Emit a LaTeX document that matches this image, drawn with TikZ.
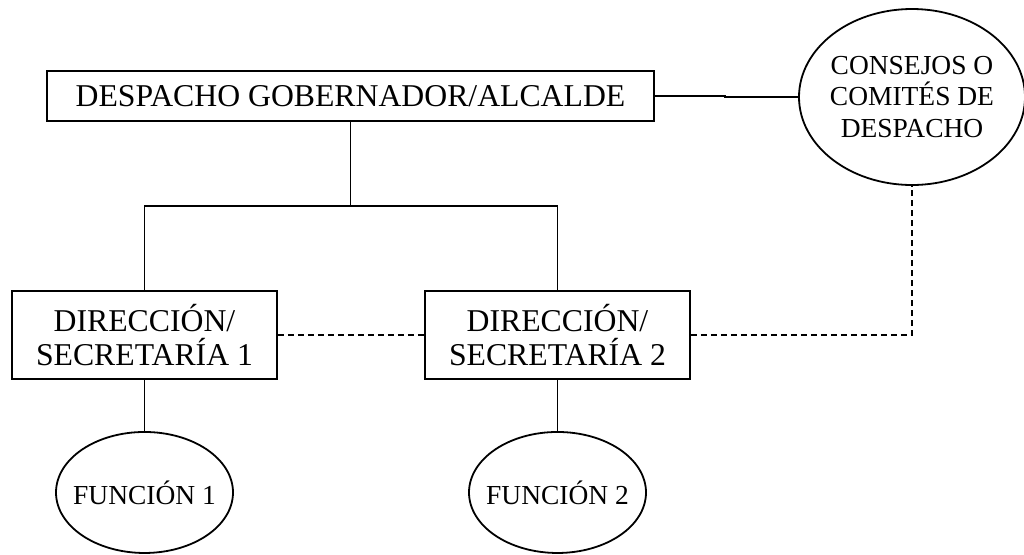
\documentclass[tikz,border=0pt]{standalone}
\usepackage{fontspec}
\setmainfont{Liberation Serif}
\usepackage{tikz}
\usetikzlibrary{shapes.geometric}

\begin{document}
\begin{tikzpicture}[x=0.75pt, y=-0.75pt, line width=1.35pt,
    bigtext/.style={font=\fontsize{23.8}{25.5}\selectfont},
    smalltext/.style={font=\fontsize{20.6}{23.3}\selectfont},
    office/.style={rectangle, draw, bigtext, align=center, inner sep=0pt, minimum width=198.75pt, minimum height=66pt},
    council/.style={ellipse, draw, smalltext, align=center, inner xsep=-4pt, minimum width=169.5pt, minimum height=132pt},
    task/.style={ellipse, draw, smalltext, inner xsep=-8pt, minimum width=132.75pt, minimum height=90.75pt},
    link/.style={dash pattern=on 4.5pt off 3pt}]
    \useasboundingbox (0,0) rectangle (1024,554);
    \node[rectangle, draw, bigtext, inner sep=0pt, minimum width=455.25pt, minimum height=37.5pt] (despacho) at (350.5,96) {DESPACHO GOBERNADOR/ALCALDE};
    \node[council] (consejos) at (912,97) {CONSEJOS O\\COMITÉS DE\\DESPACHO};
    \node[office] (dir1) at (144.5,335) {DIRECCIÓN/\\SECRETARÍA 1};
    \node[office, right of=dir1, node distance=309.75pt] (dir2) {DIRECCIÓN/\\SECRETARÍA 2};
    \node[task, below of=dir1, node distance=118.1pt] (fun1) {FUNCIÓN 1};
    \node[task, below of=dir2, node distance=118.1pt] (fun2) {FUNCIÓN 2};
    \coordinate (jog) at (725,96);
    \coordinate (fork) at (350.5,206);

    \draw (despacho.east) -- (jog) |- (consejos.west);
    \draw (despacho.south) -- (fork);
    \draw (dir1.north) |- (fork) -| (dir2.north);
    \draw[link] (dir1.east) -- (dir2.west);
    \draw[link] (dir2.east) -| (consejos.south);
    \draw (dir1.south) -- (fun1.north);
    \draw (dir2.south) -- (fun2.north);
\end{tikzpicture}
\end{document}
